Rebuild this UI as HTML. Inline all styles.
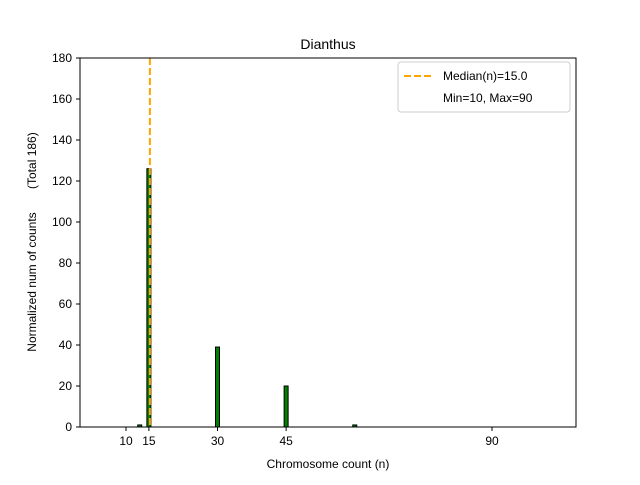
<!DOCTYPE html>
<html><head><meta charset="utf-8"><style>body{margin:0;background:#fff}svg text{font-family:"Liberation Sans","DejaVu Sans",sans-serif;fill:#000}</style></head>
<body>
<svg id="chart" width="640" height="480" xmlns="http://www.w3.org/2000/svg">
<rect width="640" height="480" fill="#fff"/>
<g id="bars"></g>
<g id="ticks"></g>
<rect x="80" y="58" width="496" height="369" fill="none" stroke="#000" stroke-width="1"/>
<text x="328" y="49" font-size="14" text-anchor="middle">Dianthus</text>
<text x="328" y="468" font-size="12" text-anchor="middle">Chromosome count (n)</text>
<text transform="translate(36,242) rotate(-90)" font-size="12" text-anchor="middle" style="white-space:pre">Normalized num of counts       (Total 186)</text>
<g>
<rect x="398" y="62" width="172" height="50" rx="3" fill="#fff" fill-opacity="0.8" stroke="#ccc"/>
<line x1="404" y1="76" x2="432" y2="76" stroke="#ffa500" stroke-width="2" stroke-dasharray="7,3"/>
<text x="443" y="80" font-size="12">Median(n)=15.0</text>
<text x="443" y="102" font-size="12">Min=10, Max=90</text>
</g>
</svg>
<script>
const categories=[13,15,30,45,60];
const counts=[1,126,39,20,1];
const xTicks=[10,15,30,45,90];
const yTicks=[0,20,40,60,80,100,120,140,160,180];
const median=15;
const NS="http://www.w3.org/2000/svg";
const X=v=>126+(v-10)*4.575;
const Y=v=>427-v*369/180;
const bars=document.getElementById('bars'),ticks=document.getElementById('ticks');
function mk(t,a,p){const e=document.createElementNS(NS,t);for(const k in a)e.setAttribute(k,a[k]);p.appendChild(e);return e;}
categories.forEach((c,i)=>{
 const r=mk('rect',{x:X(c)-2,y:Y(counts[i]),width:4,height:427-Y(counts[i]),fill:'#008000',stroke:'#000','stroke-width':1},bars);
 
 
});
const ml=mk('line',{x1:X(median)+1,x2:X(median)+1,y1:58,y2:427,stroke:'#ffa500','stroke-width':2,'stroke-dasharray':'7,3'},bars);


xTicks.forEach(t=>{
 mk('line',{x1:X(t),x2:X(t),y1:427,y2:431,stroke:'#000'},ticks);
 const tx=mk('text',{x:X(t),y:445,'font-size':12,'text-anchor':'middle'},ticks);tx.textContent=t;
 
 
});
yTicks.forEach(t=>{
 mk('line',{x1:76,x2:80,y1:Y(t),y2:Y(t),stroke:'#000'},ticks);
 const tx=mk('text',{x:72,y:Y(t)+4,'font-size':12,'text-anchor':'end'},ticks);tx.textContent=t;
 
 
});
</script>
</body></html>
